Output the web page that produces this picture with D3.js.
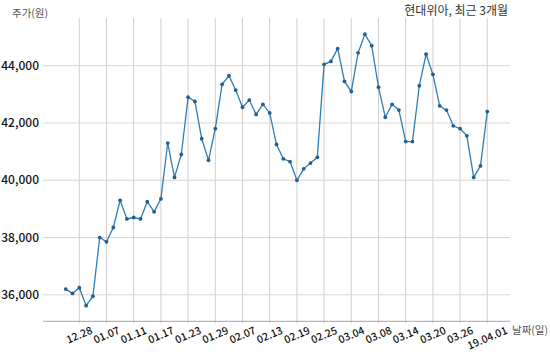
<!DOCTYPE html>
<html><head><meta charset="utf-8">
<script src="https://cdn.jsdelivr.net/npm/d3@7"></script>
<style>
html,body{margin:0;padding:0;background:#fff;}
svg{display:block;}
text{font-family:"Noto Sans CJK KR","Noto Sans",sans-serif;}
</style></head>
<body>
<svg id="c" width="550" height="356"></svg>
<script>
const dates = ["12.26","12.27","12.28","01.02","01.03","01.04","01.07","01.08","01.09","01.10","01.11",
"01.14","01.15","01.16","01.17","01.18","01.21","01.22","01.23","01.24","01.25","01.28","01.29",
"01.30","01.31","02.01","02.07","02.08","02.11","02.12","02.13","02.14","02.15","02.18","02.19",
"02.20","02.21","02.22","02.25","02.26","02.27","02.28","03.04","03.05","03.06","03.07","03.08",
"03.11","03.12","03.13","03.14","03.15","03.18","03.19","03.20","03.21","03.22","03.25","03.26",
"03.27","03.28","03.29","04.01"];
const prices = [36200,36050,36250,35620,35950,38000,37850,38350,39300,38650,38700,
38650,39250,38900,39350,41300,40100,40900,42900,42750,41450,40700,41800,
43350,43650,43150,42550,42800,42300,42650,42350,41250,40750,40650,40000,
40400,40600,40800,44050,44150,44600,43450,43100,44450,45100,44700,43250,
42200,42650,42450,41350,41350,43300,44400,43700,42600,42450,41900,41800,
41550,40100,40500,42400];
const tickDates = ["12.28","01.07","01.11","01.17","01.23","01.29","02.07","02.13","02.19","02.25","03.04","03.08","03.14","03.20","03.26","04.01"];
const tickLabels = ["12.28","01.07","01.11","01.17","01.23","01.29","02.07","02.13","02.19","02.25","03.04","03.08","03.14","03.20","03.26","19.04.01"];
const yTicks = [36000,38000,40000,42000,44000];
const title = "현대위아, 최근 3개월";
const yTitle = "주가(원)";
const xTitle = "날짜(일)";

const svg = d3.select("#c");
const L = 43, R = 510, T = 18, B = 321.3;
const x = d3.scalePoint().domain(dates).range([L, R]).padding(3.34);
const y = d3.scaleLinear().domain([35075, 45666]).range([B, T]);

// vertical grid
svg.append("g").selectAll("line").data(tickDates).join("line")
  .attr("x1", d => x(d)).attr("x2", d => x(d))
  .attr("y1", T).attr("y2", B + 2)
  .attr("stroke", "#cfcfcf").attr("stroke-width", 1);
// horizontal grid
svg.append("g").selectAll("line").data(yTicks).join("line")
  .attr("x1", L).attr("x2", R)
  .attr("y1", d => y(d)).attr("y2", d => y(d))
  .attr("stroke", "#d6d6d6").attr("stroke-width", 1);
// x axis line
svg.append("line").attr("x1", L).attr("x2", R).attr("y1", B).attr("y2", B)
  .attr("stroke", "#a8a8a8").attr("stroke-width", 1);

// y labels
svg.append("g").selectAll("text").data(yTicks).join("text")
  .attr("x", 39).attr("y", d => y(d)).attr("dy", "0.35em")
  .attr("text-anchor", "end").attr("font-size", 12).attr("font-weight", 500)
  .attr("fill", "#111").text(d => d3.format(",")(d));

// x labels
svg.append("g").selectAll("text").data(tickDates).join("text")
  .attr("transform", (d, i) => `translate(${x(d) + (i === tickDates.length - 1 ? 0 : 0)},${i === tickDates.length - 1 ? 338 : 335}) rotate(-23)`)
  .attr("dy", "0.35em")
  .attr("text-anchor", "middle").attr("font-size", 10.5).attr("font-weight", 500)
  .attr("fill", "#111").text((d, i) => tickLabels[i]);

// titles
svg.append("text").attr("x", 508).attr("y", 11).attr("dy", "0.35em")
  .attr("text-anchor", "end").attr("font-size", 12).attr("fill", "#333").text(title);
svg.append("text").attr("x", 12).attr("y", 13).attr("dy", "0.35em")
  .attr("font-size", 10.5).attr("fill", "#555").text(yTitle);
svg.append("text").attr("x", 512).attr("y", 330).attr("dy", "0.35em")
  .attr("font-size", 10.5).attr("fill", "#555").text(xTitle);

// line
const line = d3.line().x((d, i) => x(dates[i])).y(d => y(d));
svg.append("path").datum(prices).attr("d", line)
  .attr("fill", "none").attr("stroke", "#2f7db5").attr("stroke-width", 1.3);
svg.append("g").selectAll("circle").data(prices).join("circle")
  .attr("cx", (d, i) => x(dates[i])).attr("cy", d => y(d)).attr("r", 1.9)
  .attr("fill", "#265f8a");
</script>
</body></html>
